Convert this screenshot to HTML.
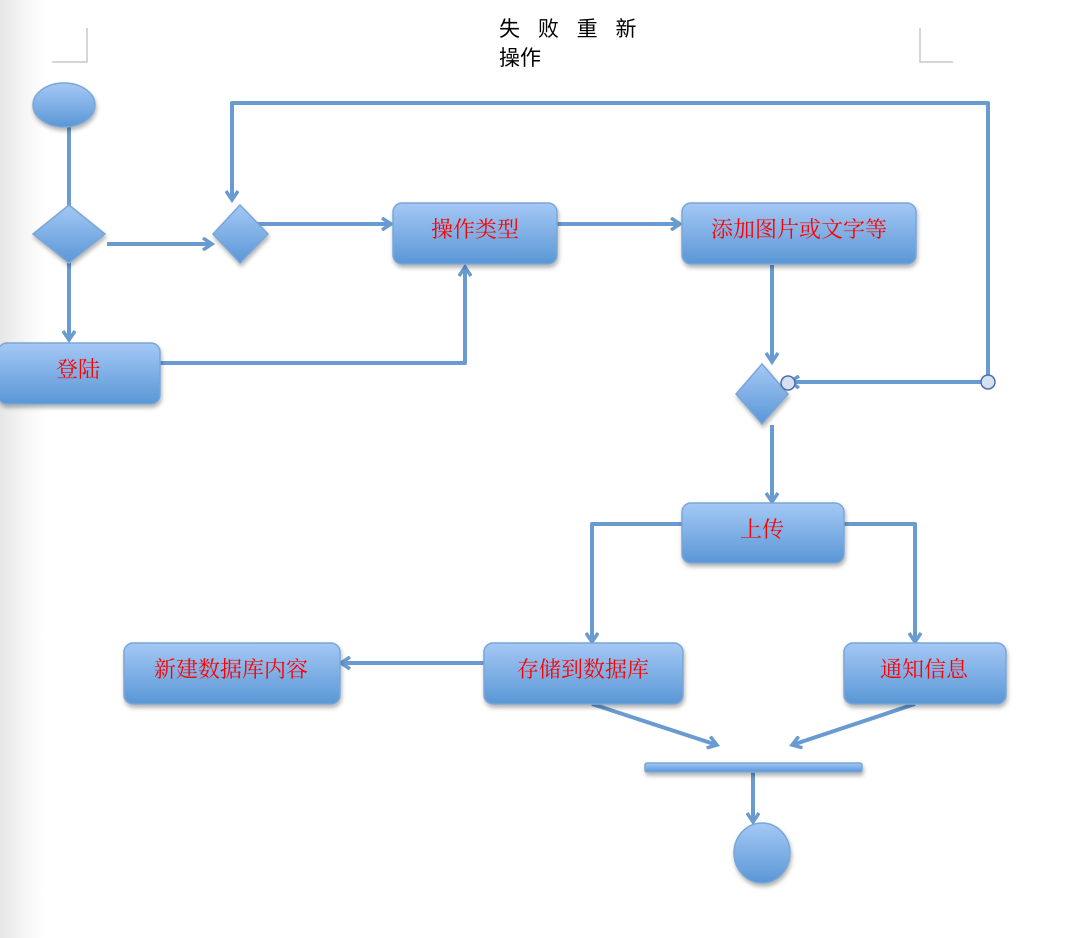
<!DOCTYPE html>
<html><head><meta charset="utf-8">
<style>
html,body{margin:0;padding:0;}
body{width:1080px;height:938px;overflow:hidden;background:linear-gradient(to right,#e6e6e6 0px,#f6f6f6 25px,#fff 45px);}
svg{position:absolute;left:0;top:0;}
.t{font-family:"Liberation Serif","Noto Serif CJK SC",serif;font-size:22px;fill:#ff0000;text-anchor:middle;}
.h{font-family:"Liberation Sans","Noto Sans CJK SC",sans-serif;font-size:21px;fill:#000;}
</style></head><body>
<svg width="1080" height="938" viewBox="0 0 1080 938">
<defs>
<linearGradient id="g" x1="0" y1="0" x2="0" y2="1">
<stop offset="0" stop-color="#a4c8f5"/><stop offset="1" stop-color="#5a97d6"/>
</linearGradient>
<filter id="s" x="-10%" y="-10%" width="130%" height="140%"><feDropShadow dx="1" dy="3" stdDeviation="2" flood-color="#000" flood-opacity="0.3"/></filter>
<marker id="a" markerWidth="14" markerHeight="14" refX="11" refY="7" orient="auto" markerUnits="userSpaceOnUse">
<path d="M2,1 L11,7 L2,13" fill="none" stroke="#6a9bd0" stroke-width="3.5"/></marker>
</defs>
<g stroke="#c8c8c8" stroke-width="1.5" fill="none">
<path d="M52,62 H87 V28"/><path d="M920,28 V62 H953"/>
</g>
<text class="h" x="499" y="36" letter-spacing="6">失 败 重 新</text>
<text class="h" x="499" y="65">操作</text>
<g stroke="#6a9bd0" stroke-width="4" fill="none" stroke-linejoin="round">
<path d="M69,127 V222" marker-end="url(#a)"/>
<path d="M107,244 H212" marker-end="url(#a)"/>
<path d="M69,263 V340" marker-end="url(#a)"/>
<path d="M160,363 H465 V267" marker-end="url(#a)"/>
<path d="M255,224 H391" marker-end="url(#a)"/>
<path d="M557,224 H680" marker-end="url(#a)"/>
<path d="M988,382 V103 H232 V200" marker-end="url(#a)"/>
<path d="M772,265 V362" marker-end="url(#a)"/>
<path d="M988,382 H790" marker-end="url(#a)"/>
<path d="M772,425 V502" marker-end="url(#a)"/>
<path d="M682,524 H592 V642" marker-end="url(#a)"/>
<path d="M844,524 H915 V642" marker-end="url(#a)"/>
<path d="M484,663 H341" marker-end="url(#a)"/>
<path d="M592,704 L717,745" marker-end="url(#a)"/>
<path d="M915,704 L792,745" marker-end="url(#a)"/>
<path d="M753,768 V822" marker-end="url(#a)"/>
</g>
<g fill="url(#g)" stroke="#7aa6d8" stroke-width="1.5" filter="url(#s)">
<ellipse cx="64" cy="105" rx="31" ry="22"/>
<path d="M69,205 L105,234 L69,263 L33,234 Z"/>
<path d="M240,205 L268,234 L240,263 L213,234 Z"/>
<path d="M762,364 L788,394 L762,424 L736,394 Z"/>
<rect x="393" y="203" width="164" height="61" rx="9"/>
<rect x="682" y="203" width="234" height="61" rx="9"/>
<rect x="-2" y="343" width="162" height="61" rx="9"/>
<rect x="682" y="503" width="162" height="60" rx="9"/>
<rect x="484" y="643" width="199" height="61" rx="9"/>
<rect x="124" y="643" width="216" height="61" rx="9"/>
<rect x="844" y="643" width="162" height="61" rx="9"/>
<rect x="645" y="763" width="217" height="9" rx="2"/>
<ellipse cx="762" cy="853" rx="28" ry="30"/>
</g>
<g fill="#d6e0f0" stroke="#4a6fb0" stroke-width="1.5">
<circle cx="988" cy="382" r="7"/><circle cx="788" cy="383" r="7"/>
</g>
<text class="t" x="475" y="237">操作类型</text>
<text class="t" x="799" y="237">添加图片或文字等</text>
<text class="t" x="78" y="377">登陆</text>
<text class="t" x="762" y="537">上传</text>
<text class="t" x="583" y="677">存储到数据库</text>
<text class="t" x="231" y="677">新建数据库内容</text>
<text class="t" x="924" y="677">通知信息</text>
</svg>
</body></html>
